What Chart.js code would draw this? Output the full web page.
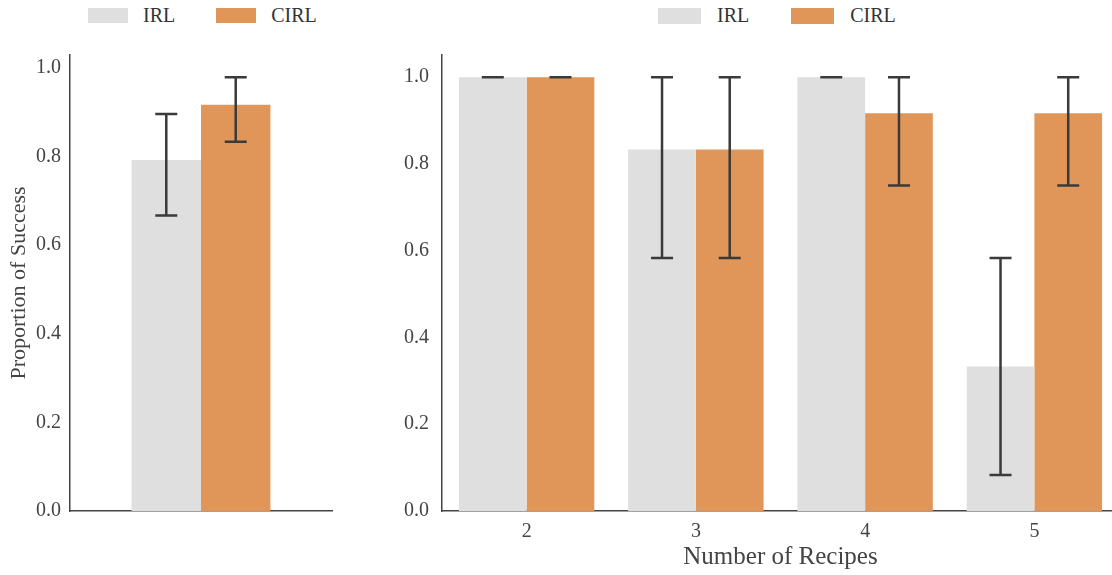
<!DOCTYPE html>
<html>
<head>
<meta charset="utf-8">
<script src="https://cdn.jsdelivr.net/npm/chart.js@4/dist/chart.umd.min.js"></script>
<style>
  body { margin: 0; width: 1112px; height: 575px; overflow: hidden; background: #fff; position: relative; }
  canvas { position: absolute; top: 0; }
  .legend { position: absolute; top: 4px; display: flex; align-items: center; font-family: "Liberation Serif", serif; color: #333; }
  .legend .item { display: flex; align-items: center; }
  .legend .box { display: inline-block; }
</style>
</head>
<body>
<div id="legendLeft" class="legend" style="left:88px"></div>
<div id="legendRight" class="legend" style="left:658px"></div>
<canvas id="left" width="400" height="575" style="left:0"></canvas>
<canvas id="right" width="800" height="575" style="left:380px"></canvas>
<script>
// data
const groups = ["IRL", "CIRL"];
const groupColors = ["#dfdfdf", "#e09658"];

// overall success (left panel)
const overallMean = [0.792, 0.917];
const overallLo = [0.667, 0.833];
const overallHi = [0.896, 0.979];

// by number of recipes (right panel)
const recipes = ["2", "3", "4", "5"];
const irlMean = [1.0, 0.833, 1.0, 0.333];
const irlLo = [1.0, 0.583, 1.0, 0.083];
const irlHi = [1.0, 1.0, 1.0, 0.583];
const cirlMean = [1.0, 0.833, 0.917, 0.917];
const cirlLo = [1.0, 0.583, 0.75, 0.75];
const cirlHi = [1.0, 1.0, 1.0, 1.0];

const yTicks = [0, 0.2, 0.4, 0.6, 0.8, 1.0];

const FONT = "Liberation Serif";
const TEXT = "#444";
const AXIS = "#444";

//Helper: html legend
const buildLegend = (id, boxW, boxH, textGap, itemGap, size) => {
  const el = document.getElementById(id);
  el.style.gap = itemGap + "px";
  el.style.fontSize = size + "px";
  groups.forEach((g, i) => {
    const item = document.createElement("div");
    item.className = "item";
    item.innerHTML =
      '<span class="box" style="width:' + boxW + 'px;height:' + boxH + 'px;background:' + groupColors[i] +
      ';margin-right:' + textGap + 'px"></span><span>' + g + "</span>";
    el.appendChild(item);
  });
};
buildLegend("legendLeft", 40, 15, 15, 41, 20);
buildLegend("legendRight", 43, 16, 16, 42, 20);

//Error bar plugin, draws through the chart's own scales
const errorBars = {
  id: "errorBars",
  afterDatasetsDraw(chart, args, opts) {
    const ctx = chart.ctx;
    const y = chart.scales.y;
    ctx.save();
    ctx.strokeStyle = "#3a3a3a";
    ctx.lineWidth = 2.5;
    chart.data.datasets.forEach((ds, i) => {
      chart.getDatasetMeta(i).data.forEach((bar, j) => {
        const lo = y.getPixelForValue(opts.lo[i][j]);
        const hi = y.getPixelForValue(opts.hi[i][j]);
        const half = opts.cap / 2;
        ctx.beginPath();
        ctx.moveTo(bar.x, lo);
        ctx.lineTo(bar.x, hi);
        ctx.moveTo(bar.x - half, lo);
        ctx.lineTo(bar.x + half, lo);
        ctx.moveTo(bar.x - half, hi);
        ctx.lineTo(bar.x + half, hi);
        ctx.stroke();
      });
    });
    ctx.restore();
  },
};

const yScale = (max, width, pad, title) => ({
  min: 0,
  max: max,
  grid: { display: false, drawTicks: false },
  border: { display: true, color: AXIS, width: 1.5 },
  afterBuildTicks: (s) => { s.ticks = yTicks.map((v) => ({ value: v })); },
  afterFit: (s) => { s.width = width; },
  ticks: {
    color: TEXT,
    padding: pad,
    font: { family: FONT, size: 20 },
    callback: (v) => Number(v).toFixed(1),
  },
  title: {
    display: !!title,
    text: title,
    color: TEXT,
    padding: { top: 6, bottom: 0 },
    font: { family: FONT, size: 22 },
  },
});

// left panel
new Chart(document.getElementById("left"), {
  type: "bar",
  data: {
    labels: [""],
    datasets: groups.map((g, i) => ({
      label: g,
      data: [overallMean[i]],
      backgroundColor: groupColors[i],
      borderWidth: 0,
      categoryPercentage: 0.53,
      barPercentage: 1.0,
    })),
  },
  options: {
    responsive: false,
    animation: false,
    layout: { padding: { top: 55, right: 68, left: 0, bottom: 0 } },
    plugins: {
      legend: { display: false },
      tooltip: { enabled: false },
      errorBars: { lo: [[overallLo[0]], [overallLo[1]]], hi: [[overallHi[0]], [overallHi[1]]], cap: 22 },
    },
    scales: {
      x: {
        grid: { display: false, drawTicks: false },
        border: { display: true, color: AXIS, width: 1.5 },
        ticks: { display: false },
        afterFit: (s) => { s.height = 64; },
      },
      y: yScale(1.029, 70, 9, "Proportion of Success"),
    },
  },
  plugins: [errorBars],
});

// right panel
new Chart(document.getElementById("right"), {
  type: "bar",
  data: {
    labels: recipes,
    datasets: [
      { label: groups[0], data: irlMean, backgroundColor: groupColors[0] },
      { label: groups[1], data: cirlMean, backgroundColor: groupColors[1] },
    ].map((d) => Object.assign(d, { borderWidth: 0, categoryPercentage: 0.8, barPercentage: 1.0 })),
  },
  options: {
    responsive: false,
    animation: false,
    layout: { padding: { top: 55, right: 61, left: 0, bottom: 0 } },
    plugins: {
      legend: { display: false },
      tooltip: { enabled: false },
      errorBars: { lo: [irlLo, cirlLo], hi: [irlHi, cirlHi], cap: 22 },
    },
    scales: {
      x: {
        grid: { display: false, drawTicks: false },
        border: { display: true, color: AXIS, width: 1.5 },
        afterFit: (s) => { s.height = 64; },
        ticks: { color: TEXT, padding: 9, font: { family: FONT, size: 20 } },
        title: {
          display: true,
          text: "Number of Recipes",
          color: TEXT,
          padding: { top: 0, bottom: 3 },
          font: { family: FONT, size: 25 },
        },
      },
      y: yScale(1.051, 62, 13, ""),
    },
  },
  plugins: [errorBars],
});
</script>
</body>
</html>
